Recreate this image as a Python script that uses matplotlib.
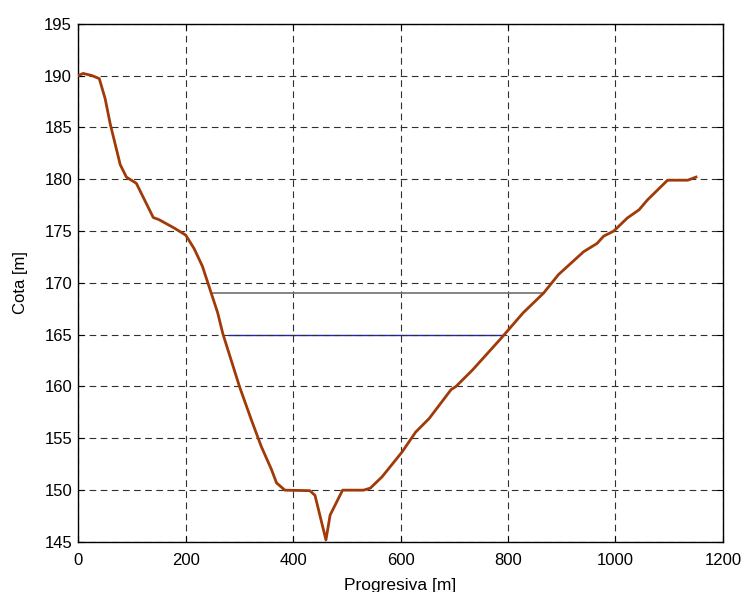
import matplotlib
matplotlib.use("Agg")
import matplotlib.pyplot as plt

# Terrain profile
progresiva = [0, 9, 25, 39, 50, 59.5, 78, 89.5, 108, 139.5, 150, 178, 200, 215.6, 231,
              259.5, 269, 300, 322, 340.7, 359.5, 369, 384.5, 431, 440.6, 461, 468.8,
              492, 531, 543.8, 565.7, 603, 628, 653, 694, 703, 734, 784.5, 803, 828,
              866, 894, 940.7, 965.7, 978, 997, 1022, 1044, 1059.6, 1097, 1134.5, 1150]
cota = [190.0, 190.2, 190.0, 189.7, 187.75, 185.3, 181.4, 180.2, 179.6, 176.3, 176.1,
        175.3, 174.6, 173.3, 171.6, 167.1, 165.1, 160.0, 156.8, 154.2, 152.0, 150.7,
        150.0, 149.95, 149.5, 145.2, 147.6, 150.0, 150.0, 150.2, 151.3, 153.7, 155.6,
        156.9, 159.7, 160.0, 161.6, 164.5, 165.6, 167.1, 169.0, 170.8, 173.0, 173.8,
        174.5, 175.0, 176.25, 177.05, 178.0, 179.9, 179.9, 180.2]

# Water levels
nivel_gris_x = [250, 866]
nivel_gris_y = [169.0, 169.0]
nivel_azul_x = [281, 790]
nivel_azul_y = [165.0, 165.0]

xticks = [0, 200, 400, 600, 800, 1000, 1200]
yticks = [145, 150, 155, 160, 165, 170, 175, 180, 185, 190, 195]

plt.rcParams['font.family'] = ['Liberation Sans', 'DejaVu Sans']
fig = plt.figure(figsize=(7.46, 5.92), dpi=100)
ax = fig.add_axes([0.105, 0.0845, 0.864, 0.8755])

ax.plot(nivel_gris_x, nivel_gris_y, color='#707070', lw=1.2, zorder=3)
ax.plot(nivel_azul_x, nivel_azul_y, color='#2020d0', lw=1.0, zorder=0.5)
ax.plot(progresiva, cota, color='#a03a08', lw=2.0, zorder=4)

ax.set_xlim(0, 1200)
ax.set_ylim(145, 195)
ax.set_xticks(xticks)
ax.set_yticks(yticks)
ax.grid(True, color='#303030', linestyle=(0, (6, 4)), linewidth=0.8)
ax.tick_params(direction='in', top=True, right=True, labelsize=12, length=4, width=0.8)
ax.tick_params(axis='x', pad=8)
ax.tick_params(axis='y', pad=4.5)
for s in ax.spines.values():
    s.set_linewidth(1.0)
ax.set_xlabel('Progresiva [m]', fontsize=12.5, labelpad=7)
ax.set_ylabel('Cota [m]', fontsize=12, labelpad=12)

fig.savefig('out.png', dpi=100)
